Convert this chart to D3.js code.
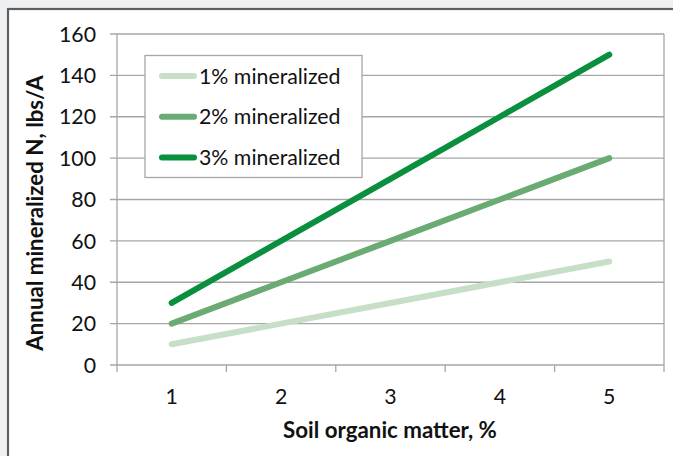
<!DOCTYPE html>
<html>
<head>
<meta charset="utf-8">
<script src="https://cdn.jsdelivr.net/npm/d3@7"></script>
<style>
 body{margin:0;background:#eef0f2;}
 svg{display:block;}
 text{font-family:Lato,"Open Sans",sans-serif;fill:#111;}
 .grid line{stroke:#a6a6a6;stroke-width:1.3;}
 .series{fill:none;stroke-width:6;stroke-linecap:round;stroke-linejoin:round;}
</style>
</head>
<body>
<script>
// data
var categories=[1,2,3,4,5]; // soil organic matter, %
var seriesNames=['1% mineralized','2% mineralized','3% mineralized'];
var seriesVals=[[10,20,30,40,50],[20,40,60,80,100],[30,60,90,120,150]];
var seriesCols=['#c6dfc6','#6aab74','#0a8f3f'];
var yTicks=[0,20,40,60,80,100,120,140,160];
// layout
var wid=673,hgh=456;
var pl=117,pr=664,pt=34,pb=365; // plot area
var fsz=21.3,bsz=22.3;

var svg=d3.select('body').append('svg').attr('width',wid).attr('height',hgh);
// outer frame
svg.append('rect').attr('x',8).attr('y',9).attr('width',wid).attr('height',hgh)
  .attr('fill','#fff').attr('stroke','#5f5f5f').attr('stroke-width',2.2);

var x=d3.scaleBand().domain(categories).range([pl,pr]);
var y=d3.scaleLinear().domain([0,160]).range([pb,pt]);

// gridlines + y ticks
var g=svg.append('g').attr('class','grid');
g.selectAll('line.gy').data(yTicks).enter().append('line').attr('class','gy')
  .attr('x1',pl-7).attr('x2',pr).attr('y1',function(d){return y(d);}).attr('y2',function(d){return y(d);});
g.append('line').attr('x1',pl).attr('x2',pl).attr('y1',pt).attr('y2',pb);
g.append('line').attr('x1',pr).attr('x2',pr).attr('y1',pt).attr('y2',pb+7);
// x ticks at category boundaries
g.selectAll('line.gx').data(categories).enter().append('line').attr('class','gx')
  .attr('x1',function(d){return x(d);}).attr('x2',function(d){return x(d);})
  .attr('y1',pb).attr('y2',pb+7);

// y tick labels
svg.selectAll('text.yl').data(yTicks).enter().append('text').attr('class','yl')
  .attr('x',96).attr('y',function(d){return y(d);}).attr('dy','0.36em')
  .attr('text-anchor','end').attr('font-size',fsz).text(function(d){return d;});
// x tick labels
svg.selectAll('text.xl').data(categories).enter().append('text').attr('class','xl')
  .attr('x',function(d){return x(d)+x.bandwidth()/2;}).attr('y',404)
  .attr('text-anchor','middle').attr('font-size',fsz).text(function(d){return d;});

// axis titles
svg.append('text').attr('x',390).attr('y',438).attr('text-anchor','middle')
  .attr('font-size',bsz).attr('font-weight','bold').text('Soil organic matter, %');
svg.append('text').attr('transform','translate(43,213) rotate(-90)').attr('text-anchor','middle')
  .attr('font-size',bsz).attr('font-weight','bold').text('Annual mineralized N, lbs/A');

// series
var line=d3.line().x(function(d,i){return x(categories[i])+x.bandwidth()/2;}).y(function(d){return y(d);});
svg.selectAll('path.series').data(seriesVals).enter().append('path').attr('class','series')
  .attr('d',line).attr('stroke',function(d,i){return seriesCols[i];});

// legend
var lg=svg.append('g');
lg.append('rect').attr('x',145).attr('y',55.5).attr('width',217).attr('height',122)
  .attr('fill','#fff').attr('stroke','#a6a6a6').attr('stroke-width',1.3);
var li=lg.selectAll('g.li').data(seriesNames).enter().append('g').attr('class','li')
  .attr('transform',function(d,i){return 'translate(0,'+(76+i*40.7)+')';});
li.append('line').attr('x1',162).attr('x2',194).attr('y1',0).attr('y2',0)
  .attr('stroke',function(d,i){return seriesCols[i];}).attr('stroke-width',6).attr('stroke-linecap','round');
li.append('text').attr('x',199).attr('dy','0.36em').attr('font-size',fsz).text(function(d){return d;});
</script>
</body>
</html>
